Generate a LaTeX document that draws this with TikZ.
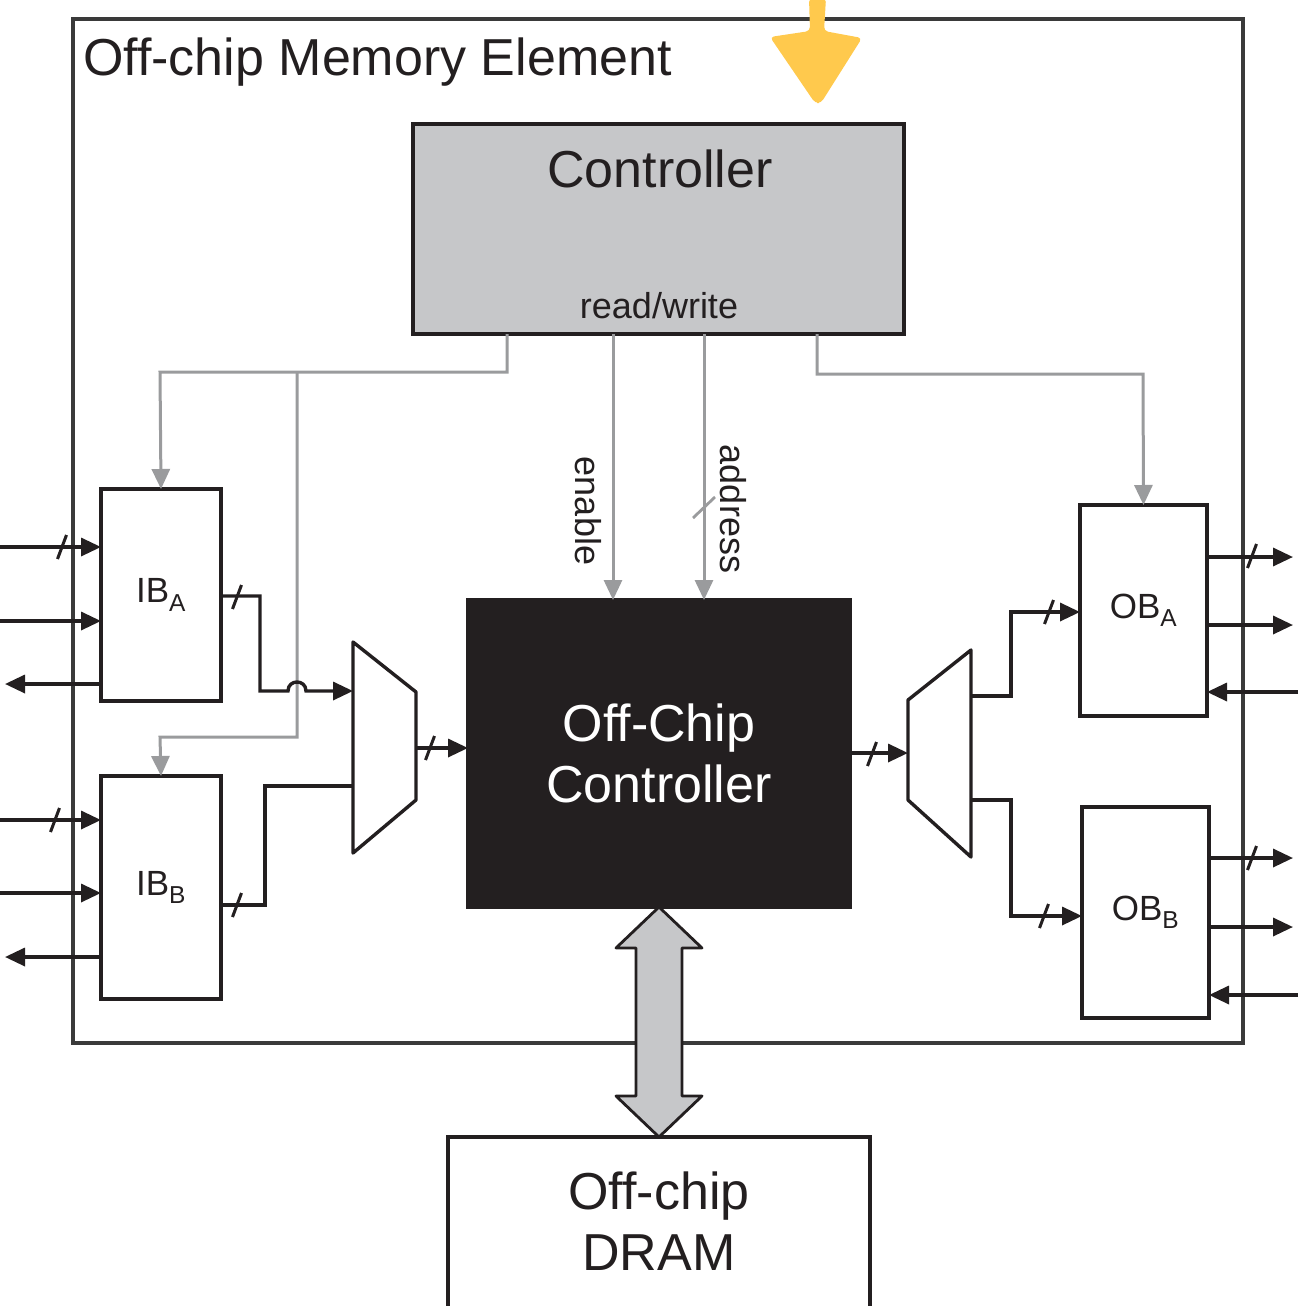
\documentclass[tikz,border=0pt]{standalone}
\usepackage{fontspec}
\setmainfont{Liberation Sans}
\usetikzlibrary{arrows.meta,calc}
\definecolor{ink}{HTML}{231F20}
\definecolor{wgray}{HTML}{9A9B9D}
\definecolor{ctrlgray}{HTML}{C6C7C9}
\definecolor{outerc}{HTML}{3A3A3A}
\definecolor{hiyel}{HTML}{FFC94D}
\newcommand\busslash[1]{\draw[ink,line width=3pt] ($(#1)+(-4.5,12)$) -- ($(#1)+(4.5,-12)$);}
\begin{document}
\begin{tikzpicture}[x=1pt,y=-1pt,
  box/.style={draw=ink, line width=3.8pt, fill=white, inner sep=0pt, outer sep=0pt, anchor=north west},
  wire/.style={draw=ink, line width=3.4pt},
  gwire/.style={draw=wgray, line width=3pt},
  arr/.style={-{Triangle[length=20pt,width=18pt]}},
  lbl/.style={font=\fontsize{35}{40}\selectfont, text=ink},
  big/.style={font=\fontsize{52}{61}\selectfont, align=center},
  sig/.style={font=\fontsize{36}{40}\selectfont, text=ink, inner sep=0pt},
]
\useasboundingbox (0,0) rectangle (1301,1306);

% outer element
\node[draw=outerc, line width=3.2pt, minimum width=1170, minimum height=1024, anchor=north west, inner sep=0pt, outer sep=0pt] (mem) at (73,19) {};
\node[anchor=base west, font=\fontsize{52}{60}\selectfont, text=ink, inner sep=0pt] (title) at (83,75) {Off-chip Memory Element};

% highlight arrow
\fill[hiyel, rounded corners=4pt] (809,-2) -- (826,-2) -- (824,31) -- (862,38) -- (821,103) -- (815,103) -- (770,37) -- (810,31) -- cycle;

% controller
\node[box, fill=ctrlgray, minimum width=491, minimum height=210] (ctrl) at (413,124) {};
\node[anchor=base, font=\fontsize{52}{60}\selectfont, text=ink] (ctrltxt) at (660,187) {Controller};
\node[anchor=base, sig] (rw) at (659,318) {read/write};

% buffers
\node[box, lbl, minimum width=120, minimum height=212] (IBA) at (101,489) {IB\textsubscript{A}};
\node[box, lbl, minimum width=120, minimum height=223] (IBB) at (101,776) {IB\textsubscript{B}};
\node[box, lbl, minimum width=127, minimum height=211] (OBA) at (1080,505) {OB\textsubscript{A}};
\node[box, lbl, minimum width=127, minimum height=211] (OBB) at (1082,807) {OB\textsubscript{B}};

% off-chip controller
\node[box, fill=ink, text=white, big, minimum width=382, minimum height=307] (occ) at (468,600) {Off-Chip\\Controller};

% DRAM
\node[box, minimum width=422, minimum height=190] (dram) at (448,1137) {};
\node[big, text=ink] (dramtxt) at (659,1221) {Off-chip\\DRAM};

% double arrow
\draw[line width=2.8pt, draw=ink, fill=ctrlgray, line join=round]
  (occ.south) -- ($(occ.south)+(43,41)$) -- ($(occ.south)+(23,41)$)
  -- ($(dram.north)+(23,-41)$) -- ($(dram.north)+(43,-41)$) -- (dram.north)
  -- ($(dram.north)+(-43,-41)$) -- ($(dram.north)+(-23,-41)$)
  -- ($(occ.south)+(-23,41)$) -- ($(occ.south)+(-43,41)$) -- cycle;

% muxes
\coordinate (mLa) at (353,691);
\coordinate (mLb) at (353,786);
\coordinate (mLo) at (416,748);
\coordinate (mRi) at (908,753);
\coordinate (mRa) at (971,696);
\coordinate (mRb) at (971,800);
\draw[wire, line join=round] (353,642) -- (416,692) -- (416,800) -- (353,853) -- cycle;
\draw[wire, line join=round] (908,700) -- (971,650) -- (971,857) -- (908,800) -- cycle;

% gray control lines
\coordinate (gA) at (507,372);
\coordinate (gB) at (297,372);
\draw[gwire, arr] (ctrl.south -| gA) -- (gA) -- (160,372) -- (IBA.north);
\draw[gwire, arr] (gB) -- (297,737) -- (160,737) -- (IBB.north);
\coordinate (en) at (613,0);
\coordinate (ad) at (704,0);
\draw[gwire, arr] (ctrl.south -| en) -- (occ.north -| en);
\draw[gwire, arr] (ctrl.south -| ad) -- (occ.north -| ad);
\draw[wgray, line width=2.8pt] (693,518) -- (715,497);
\node[sig, rotate=-90] (enl) at (588,511) {enable};
\node[sig, rotate=-90] (adl) at (733,509) {address};
\coordinate (gC) at (817,374);
\draw[gwire, arr] (ctrl.south -| gC) -- (gC) -- (1143,374) -- (OBA.north);

% IB_A ports
\coordinate (ia1) at (0,547);
\coordinate (ia2) at (0,621);
\coordinate (ia3) at (5,684);
\draw[wire, arr] (ia1) -- (IBA.west |- ia1);
\busslash{62,547}
\draw[wire, arr] (ia2) -- (IBA.west |- ia2);
\draw[wire, arr] (IBA.west |- ia3) -- (ia3);
% IB_B ports
\coordinate (ib1) at (0,820);
\coordinate (ib2) at (0,893);
\coordinate (ib3) at (5,957);
\draw[wire, arr] (ib1) -- (IBB.west |- ib1);
\busslash{55,820}
\draw[wire, arr] (ib2) -- (IBB.west |- ib2);
\draw[wire, arr] (IBB.west |- ib3) -- (ib3);

% IB outputs to left mux
\draw[wire, arr] (IBA.east |- 0,596) -- (260,596) -- (260,691) -- (288,691)
  .. controls (288,679) and (306,679) .. (306,691) -- (mLa);
\busslash{237,597}
\draw[wire] (IBB.east |- 0,905) -- (265,905) -- (265,786) -- (mLb);
\busslash{237,905}

% mux to controller and back out
\draw[wire, arr] (mLo) -- (occ.west |- mLo);
\busslash{430,748}
\draw[wire, arr] (occ.east |- mRi) -- (mRi);
\busslash{872,754}

% right mux to OB
\draw[wire, arr] (mRa) -- (1011,696) -- (1011,612) -- (OBA.west |- 0,612);
\busslash{1049,612}
\draw[wire, arr] (mRb) -- (1011,800) -- (1011,916) -- (OBB.west |- 0,916);
\busslash{1044,916}

% OB_A ports
\coordinate (oa1) at (1293,557);
\coordinate (oa2) at (1293,625);
\coordinate (oa3) at (1298,692);
\draw[wire, arr] (OBA.east |- oa1) -- (oa1);
\busslash{1252,556}
\draw[wire, arr] (OBA.east |- oa2) -- (oa2);
\draw[wire, arr] (oa3) -- (OBA.east |- oa3);
% OB_B ports
\coordinate (ob1) at (1293,858);
\coordinate (ob2) at (1293,927);
\coordinate (ob3) at (1298,995);
\draw[wire, arr] (OBB.east |- ob1) -- (ob1);
\busslash{1252,858}
\draw[wire, arr] (OBB.east |- ob2) -- (ob2);
\draw[wire, arr] (ob3) -- (OBB.east |- ob3);
\end{tikzpicture}
\end{document}
